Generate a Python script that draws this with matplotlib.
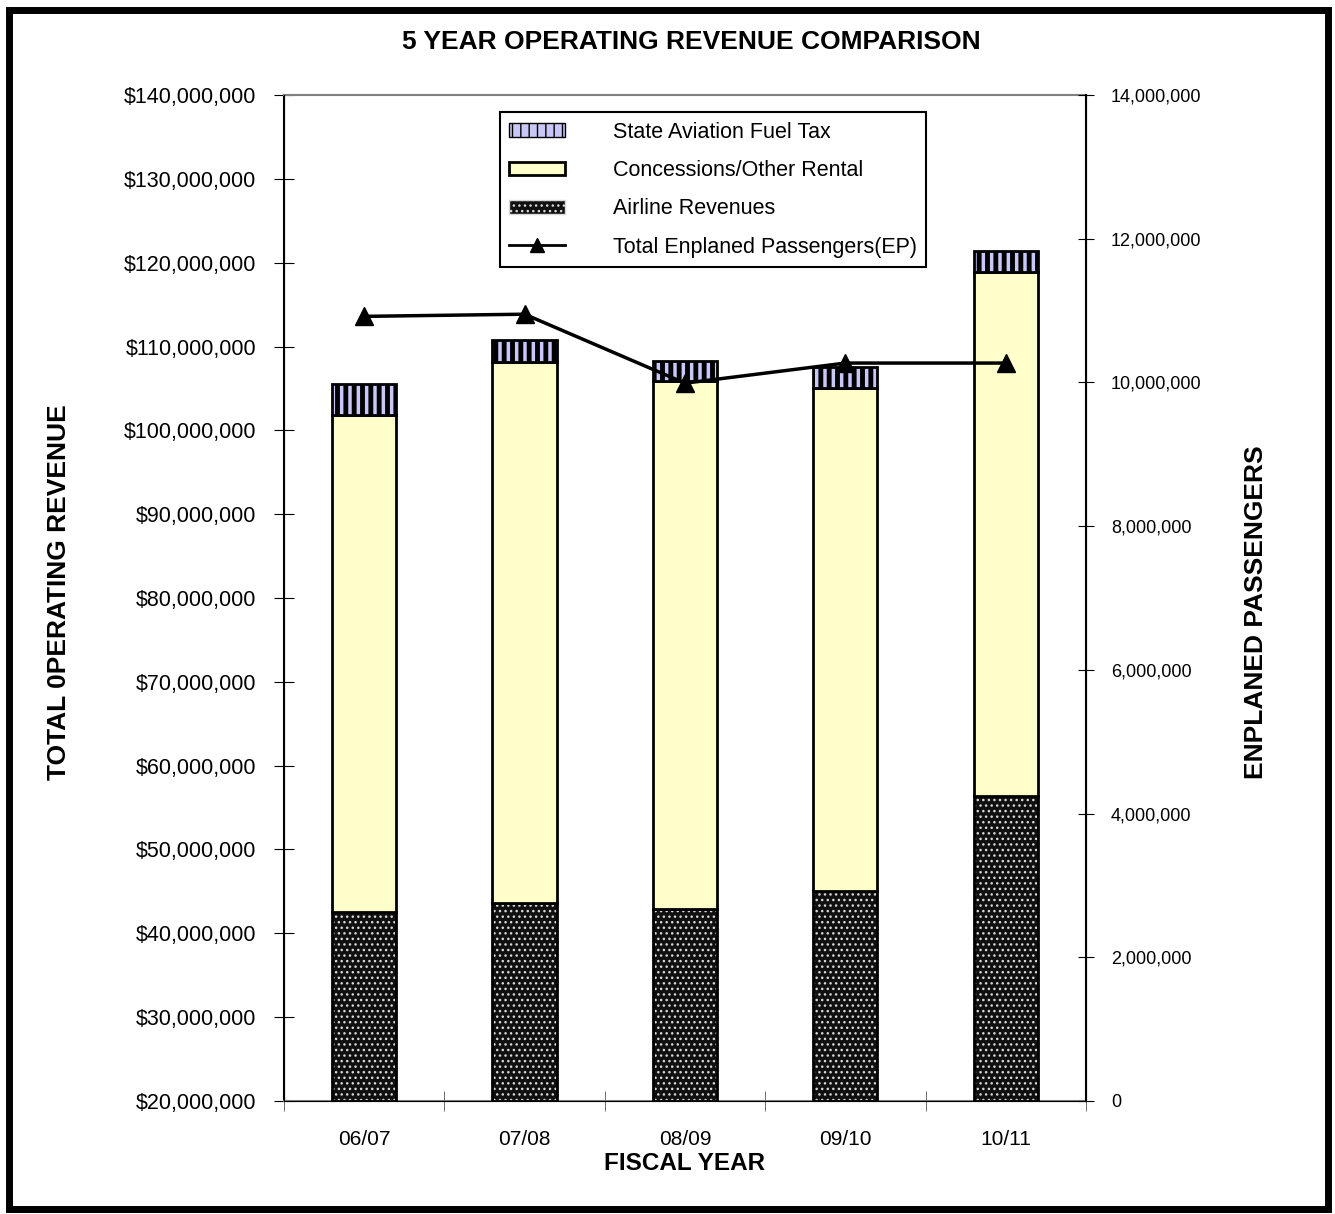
import numpy as np
import matplotlib.pyplot as plt
from matplotlib.patches import Rectangle
from matplotlib.lines import Line2D
from matplotlib.ticker import FuncFormatter, MultipleLocator

plt.rcParams['font.family'] = ['Liberation Sans', 'DejaVu Sans']

# Receita operacional por ano fiscal
anos = ['06/07', '07/08', '08/09', '09/10', '10/11']
airline = [42.5e6, 43.6e6, 42.9e6, 45.0e6, 56.4e6]
concessoes = [59.3e6, 64.6e6, 63.0e6, 60.1e6, 62.5e6]
combustivel = [3.7e6, 2.6e6, 2.4e6, 2.5e6, 2.5e6]
passageiros = [10.92e6, 10.95e6, 9.99e6, 10.27e6, 10.27e6]

BASE = 20e6

fig = plt.figure(figsize=(13.35, 12.14), dpi=100)
ax = fig.add_axes([0.2127, 0.0931, 0.6008, 0.8286])
x = np.arange(len(anos))
w = 0.4

a = np.array(airline)
c = np.array(concessoes)
f = np.array(combustivel)

# barras empilhadas (Airline começa na base do eixo)
ax.bar(x, a - BASE, w, bottom=BASE, color='#101010', edgecolor='#d8d8d8',
       hatch='...', linewidth=0, zorder=2)
ax.bar(x, a - BASE, w, bottom=BASE, fill=False, edgecolor='black',
       linewidth=2, zorder=3)
ax.bar(x, c, w, bottom=a, color='#FFFFCC', edgecolor='black',
       linewidth=2, zorder=3)
with plt.rc_context({'hatch.linewidth': 3.5}):
    ax.bar(x, f, w, bottom=a + c, color='#C8C8F8', edgecolor='black',
           hatch='||', linewidth=2, zorder=3)

ax.set_xlim(-0.5, 4.5)
ax.set_ylim(20e6, 140e6)
ax.yaxis.set_major_locator(MultipleLocator(10e6))
ax.yaxis.set_major_formatter(FuncFormatter(lambda v, p: f'${v:,.0f}'))
ax.set_xticks(x)
ax.set_xticklabels(anos, fontsize=15)
ax.set_xticks(np.arange(-0.5, 5, 1), minor=True)
ax.tick_params(axis='x', which='major', length=0, pad=21)
ax.tick_params(axis='x', which='minor', direction='inout', length=14,
               color='#555555')
ax.tick_params(axis='y', direction='inout', length=14, labelsize=15.5, pad=13)
ax.set_xlabel('FISCAL YEAR', fontsize=17.5, fontweight='bold', labelpad=2)
ax.set_ylabel('TOTAL 0PERATING REVENUE', fontsize=19, fontweight='bold')
ax.yaxis.set_label_coords(-0.265, 0.506)
for s in ['top', 'bottom']:
    ax.spines[s].set_color('#808080')
    ax.spines[s].set_linewidth(1.5)
ax.spines['left'].set_linewidth(1.5)

# eixo secundário: passageiros embarcados
ax2 = ax.twinx()
ax2.plot(x, passageiros, color='black', linewidth=2.5, marker='^',
         markersize=13, zorder=5)
ax2.set_ylim(0, 14e6)
ax2.yaxis.set_major_locator(MultipleLocator(2e6))
ax2.yaxis.set_major_formatter(FuncFormatter(lambda v, p: f'{v:,.0f}'))
ax2.tick_params(axis='y', direction='inout', length=12, pad=12, labelsize=13)
ax2.set_ylabel('ENPLANED PASSENGERS', fontsize=19, fontweight='bold')
ax2.yaxis.set_label_coords(1.197, 0.486)
ax2.spines['right'].set_linewidth(1.5)
ax2.spines['top'].set_visible(False)

fig.text(0.518, 0.965, '5 YEAR OPERATING REVENUE COMPARISON', ha='center',
         va='center', fontsize=19, fontweight='bold')

handles = [
    Rectangle((0, 0), 1, 1, facecolor='#C8C8F8', edgecolor='black', hatch='||'),
    Rectangle((0, 0), 1, 1, facecolor='#FFFFCC', edgecolor='black', linewidth=2),
    Rectangle((0, 0), 1, 1, facecolor='#101010', edgecolor='#d8d8d8', hatch='...'),
    Line2D([], [], color='black', linewidth=2, marker='^', markersize=10),
]
labels = ['State Aviation Fuel Tax', 'Concessions/Other Rental',
          'Airline Revenues', 'Total Enplaned Passengers(EP)']
leg = ax2.legend(handles, labels, loc='upper left',
                 bbox_to_anchor=(0.269, 0.983), borderaxespad=0,
                 fontsize=15.5, fancybox=False, framealpha=1,
                 edgecolor='black', handlelength=2.6, handleheight=0.6,
                 handletextpad=2.2, labelspacing=0.8, borderpad=0.45)
leg.get_frame().set_linewidth(1.5)

# moldura externa
fig.patches.append(Rectangle((0.007, 0.004), 0.988, 0.988,
                             transform=fig.transFigure, fill=False,
                             edgecolor='black', linewidth=5))

fig.savefig('out.png', dpi=100)
